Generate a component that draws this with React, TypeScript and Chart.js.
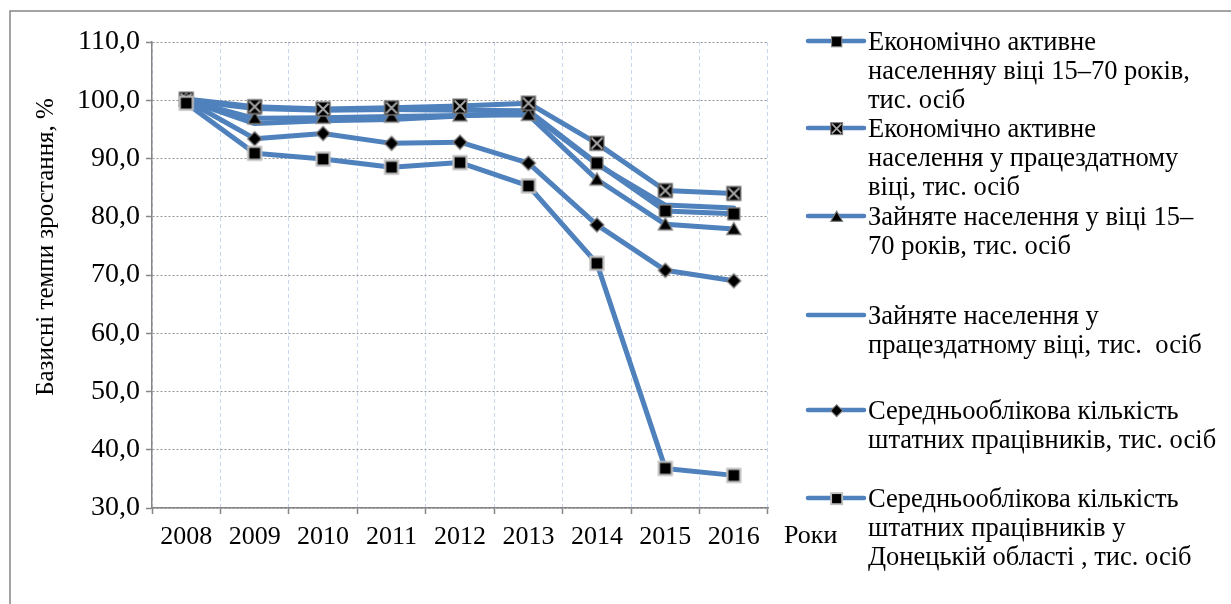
import React, { useEffect, useRef } from "react";
import { Chart, registerables } from "chart.js";

Chart.register(...registerables);

// ---------- data ----------
const years = ["2008", "2009", "2010", "2011", "2012", "2013", "2014", "2015", "2016"];
const xAxisTitle = "Роки";
const yAxisTitle = "Базисні темпи зростання, %";

const econActive1570 = [100.0, 98.6, 98.3, 98.4, 98.3, 98.2, 89.2, 81.0, 80.5];
const econActiveWorkAge = [100.2, 98.9, 98.5, 98.7, 99.0, 99.5, 92.6, 84.5, 84.0];
const employed1570 = [100.0, 96.9, 97.0, 97.2, 97.4, 97.5, 86.4, 78.7, 77.9];
const employedWorkAge = [100.0, 96.0, 96.5, 96.7, 97.3, 98.0, 89.0, 82.0, 81.5];
const staffAvg = [100.0, 93.4, 94.3, 92.6, 92.8, 89.2, 78.6, 70.8, 69.0];
const staffDonetsk = [99.5, 90.9, 89.9, 88.5, 89.3, 85.3, 72.0, 36.8, 35.6];

const legendTexts = [
  ["Економічно активне", "населенняу віці 15–70 років,", "тис. осіб"],
  ["Економічно активне", "населення у працездатному", "віці, тис. осіб"],
  ["Зайняте населення у віці 15–", "70 років, тис. осіб"],
  ["Зайняте населення у", "працездатному віці, тис.  осіб"],
  ["Середньооблікова кількість", "штатних працівників, тис. осіб"],
  ["Середньооблікова кількість", "штатних працівників у", "Донецькій області , тис. осіб"],
];

const FONT = '"Liberation Serif", "Times New Roman", serif';
const LINE_COLOR = "#4f81bd";

type MarkerKind = "square" | "xsquare" | "triangle" | "none" | "diamond" | "square2";
const markerKinds: MarkerKind[] = ["square", "xsquare", "triangle", "none", "diamond", "square2"];

function makeMarker(kind: MarkerKind, scale: number): HTMLCanvasElement | null {
  if (kind === "none") return null;
  const base = 18;
  const size = Math.round(base * scale);
  const c = document.createElement("canvas");
  c.width = size;
  c.height = size;
  const ctx = c.getContext("2d")!;
  ctx.scale(scale, scale);
  const m = base / 2;
  ctx.lineJoin = "miter";
  if (kind === "square") {
    ctx.fillStyle = "#000";
    ctx.fillRect(m - 6, m - 6, 12, 12);
    ctx.strokeStyle = "#7f7f7f";
    ctx.lineWidth = 1.3;
    ctx.strokeRect(m - 6, m - 6, 12, 12);
  } else if (kind === "square2") {
    ctx.fillStyle = "#000";
    ctx.fillRect(m - 6.5, m - 6.5, 13, 13);
    ctx.strokeStyle = "#bfbfbf";
    ctx.lineWidth = 2.2;
    ctx.strokeRect(m - 6.5, m - 6.5, 13, 13);
  } else if (kind === "xsquare") {
    ctx.fillStyle = "#000";
    ctx.fillRect(m - 7, m - 7, 14, 14);
    ctx.strokeStyle = "#7f7f7f";
    ctx.lineWidth = 1.3;
    ctx.strokeRect(m - 7, m - 7, 14, 14);
    ctx.strokeStyle = "#a6a6a6";
    ctx.lineWidth = 2;
    ctx.beginPath();
    ctx.moveTo(m - 5.5, m - 5.5);
    ctx.lineTo(m + 5.5, m + 5.5);
    ctx.moveTo(m + 5.5, m - 5.5);
    ctx.lineTo(m - 5.5, m + 5.5);
    ctx.stroke();
  } else if (kind === "triangle") {
    ctx.fillStyle = "#000";
    ctx.strokeStyle = "#7f7f7f";
    ctx.lineWidth = 1.3;
    ctx.beginPath();
    ctx.moveTo(m, m - 6.5);
    ctx.lineTo(m + 7, m + 5.5);
    ctx.lineTo(m - 7, m + 5.5);
    ctx.closePath();
    ctx.fill();
    ctx.stroke();
  } else if (kind === "diamond") {
    ctx.fillStyle = "#000";
    ctx.strokeStyle = "#7f7f7f";
    ctx.lineWidth = 1.3;
    ctx.beginPath();
    ctx.moveTo(m, m - 7);
    ctx.lineTo(m + 7, m);
    ctx.lineTo(m, m + 7);
    ctx.lineTo(m - 7, m);
    ctx.closePath();
    ctx.fill();
    ctx.stroke();
  }
  return c;
}

export default function App() {
  const ref = useRef<HTMLCanvasElement | null>(null);

  useEffect(() => {
    document.body.style.margin = "0";
    const canvas = ref.current;
    if (!canvas) return;

    const markers = markerKinds.map((k) => makeMarker(k, 1));
    const legendMarkers = markerKinds.map((k) => makeMarker(k, 0.85));
    const series = [econActive1570, econActiveWorkAge, employed1570, employedWorkAge, staffAvg, staffDonetsk];
    const orders = [4, 2, 3, 5, 1, 0];

    const datasets = series.map((data, i) => ({
      label: legendTexts[i].join(" "),
      data,
      borderColor: LINE_COLOR,
      backgroundColor: LINE_COLOR,
      borderWidth: 5,
      borderJoinStyle: "round" as const,
      borderCapStyle: "round" as const,
      tension: 0,
      pointStyle: markers[i] || "circle",
      pointRadius: markers[i] ? 6 : 0,
      order: orders[i],
    }));

    const decorations = {
      id: "decorations",
      afterDraw(chart: any) {
        const ctx: CanvasRenderingContext2D = chart.ctx;
        const area = chart.chartArea;
        ctx.save();
        // outer frame (top + left)
        ctx.strokeStyle = "#868686";
        ctx.lineWidth = 1.5;
        ctx.beginPath();
        ctx.moveTo(10, 604);
        ctx.lineTo(10, 11);
        ctx.lineTo(1231, 11);
        ctx.stroke();

        // y axis title
        ctx.fillStyle = "#000";
        ctx.font = `25px ${FONT}`;
        ctx.textAlign = "center";
        ctx.textBaseline = "middle";
        ctx.save();
        ctx.translate(46, 247);
        ctx.rotate(-Math.PI / 2);
        ctx.fillText(yAxisTitle, 0, 0);
        ctx.restore();

        // x axis title
        ctx.font = `26px ${FONT}`;
        ctx.textAlign = "left";
        ctx.textBaseline = "middle";
        ctx.fillText(xAxisTitle, area.right + 16, 536);

        // legend
        const symX0 = 808;
        const symX1 = 864;
        const symTop = [41, 128, 216, 315, 410, 498];
        ctx.font = `26.5px ${FONT}`;
        legendTexts.forEach((lines, i) => {
          const y = symTop[i];
          ctx.strokeStyle = LINE_COLOR;
          ctx.lineWidth = 4.5;
          ctx.lineCap = "round";
          ctx.beginPath();
          ctx.moveTo(symX0, y);
          ctx.lineTo(symX1, y);
          ctx.stroke();
          const mk = legendMarkers[i];
          if (mk) {
            ctx.drawImage(mk, Math.round((symX0 + symX1) / 2 - mk.width / 2), Math.round(y - mk.height / 2));
          }
          ctx.fillStyle = "#000";
          lines.forEach((t, j) => {
            ctx.fillText(t, 868, y + 2 + j * 29);
          });
        });
        ctx.restore();
      },
    };

    const chart = new Chart(canvas, {
      type: "line",
      data: { labels: years, datasets },
      options: {
        animation: false,
        responsive: false,
        devicePixelRatio: 1,
        layout: { padding: { left: 0, right: 463, top: 42, bottom: 0 } },
        plugins: { legend: { display: false }, tooltip: { enabled: false } },
        scales: {
          x: {
            type: "category",
            offset: true,
            grid: {
              offset: true,
              color: "#c9d7ee",
              lineWidth: 1,
              tickColor: "#868686",
              tickLength: 6,
              tickWidth: 1.5,
              tickBorderDash: [],
            },
            border: { color: "#868686", width: 1.5, dash: [4, 3] },
            ticks: {
              color: "#000",
              font: { family: FONT, size: 26 },
              padding: 8,
              maxRotation: 0,
              autoSkip: false,
            },
            afterFit: (s: any) => {
              s.height = 96;
            },
          },
          y: {
            min: 30,
            max: 110,
            grid: {
              color: "#959595",
              lineWidth: 1,
              tickColor: "#868686",
              tickLength: 6,
              tickWidth: 1.5,
              tickBorderDash: [],
            },
            border: { color: "#868686", width: 1.5, dash: [2, 2] },
            ticks: {
              stepSize: 10,
              color: "#000",
              font: { family: FONT, size: 28 },
              padding: 6,
              callback: (v: any) => Number(v).toFixed(1).replace(".", ","),
            },
            afterFit: (s: any) => {
              s.width = 152;
            },
          },
        },
      },
      plugins: [decorations],
    } as any);

    return () => chart.destroy();
  }, []);

  return <canvas ref={ref} width={1231} height={604} style={{ display: "block" }} />;
}
